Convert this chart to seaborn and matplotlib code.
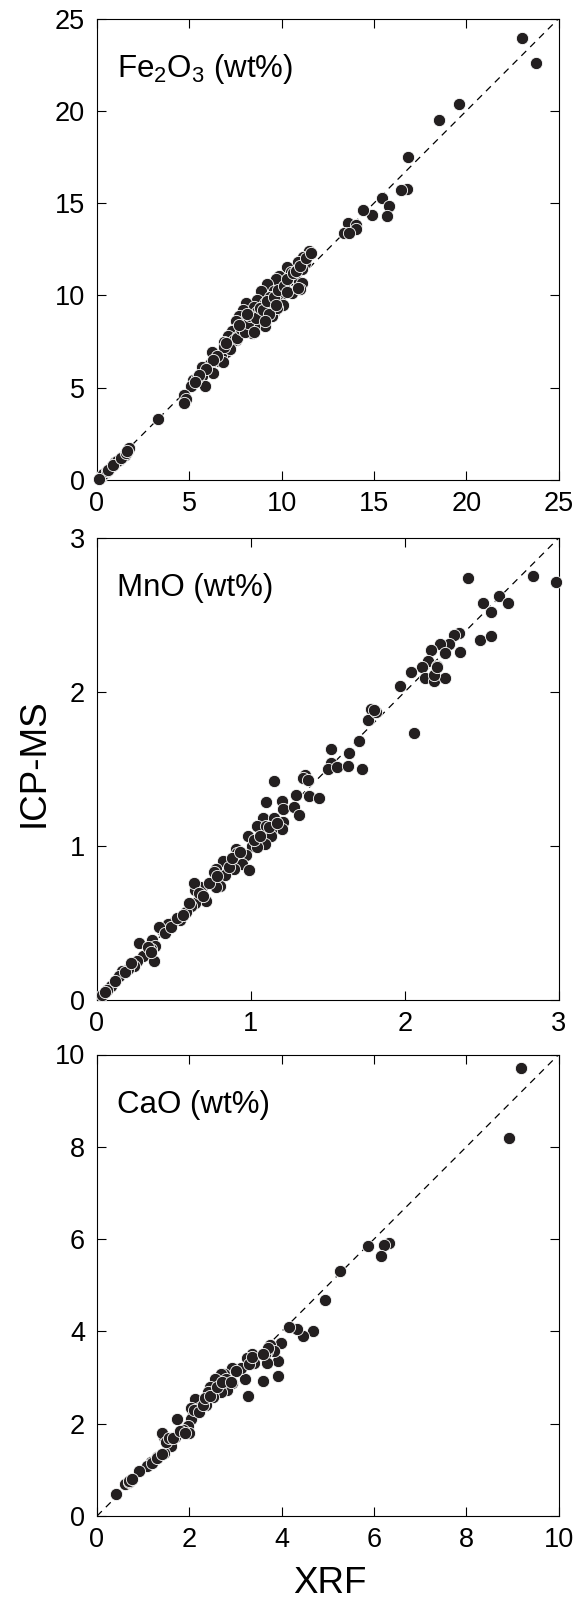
import numpy as np
import pandas as pd
import matplotlib
matplotlib.use("Agg")
import matplotlib.pyplot as plt
import seaborn as sns

# ---------------- data ----------------
fe_xrf = [23.0, 23.75, 19.6, 18.5, 16.85, 16.8, 16.45, 15.45, 15.8, 15.7, 14.9, 14.4,
          13.6, 14.0, 14.05, 13.4, 13.63,
          11.48, 11.18, 10.88, 11.28, 10.28, 10.48, 9.88, 9.69, 10.48, 10.92, 11.12, 10.58,
          10.98, 9.19, 9.59, 9.98, 8.89, 8.69, 9.09, 9.49, 9.88, 8.09, 8.49, 9.19, 10.08,
          7.90, 8.69, 9.59, 9.49, 8.89, 7.70, 8.09, 8.49, 7.50, 9.09, 8.49, 7.99, 7.50, 8.39,
          7.80, 7.30, 7.10, 7.50, 6.90, 7.20, 7.00, 6.70, 6.20, 6.60, 6.80, 6.10, 6.26, 5.71,
          5.71, 5.87, 5.21, 5.11, 5.41, 4.71, 4.81, 4.71, 3.32, 11.08, 9.35, 8.25, 7.6, 9.75,
          7.4, 7.6, 7.8, 8.0, 8.2, 8.3, 8.6, 8.8, 9.0, 9.2, 9.3, 9.6, 9.8, 10.1, 10.3, 10.6,
          10.8, 11.0, 11.3, 11.6, 7.2, 6.9, 6.5, 6.3, 5.9, 5.5, 5.3, 8.5, 9.1, 9.7, 10.3, 10.9,
          7.0, 7.7, 8.1,
          0.20, 0.45, 0.65, 0.80, 0.90, 1.00, 1.20, 1.35, 1.50, 1.60, 1.70, 1.75, 0.30, 0.55, 1.10,
          0.10, 0.60, 0.85, 1.30, 1.55, 1.65]
fe_icp = [23.96, 22.57, 20.37, 19.51, 17.52, 15.76, 15.70, 15.25, 14.86, 14.28, 14.35, 14.60,
          13.94, 13.79, 13.60, 13.38, 13.36,
          12.42, 12.10, 11.82, 11.76, 11.54, 11.26, 11.07, 10.88, 10.97, 10.73, 10.69, 10.13,
          10.36, 10.64, 10.26, 10.04, 10.22, 9.76, 9.57, 9.76, 9.57, 9.57, 9.38, 9.44, 9.47,
          9.19, 9.10, 9.10, 8.91, 8.91, 8.91, 8.72, 8.54, 8.63, 8.35, 8.35, 8.26, 8.16, 7.97,
          7.97, 8.07, 7.79, 7.60, 7.50, 7.32, 6.94, 6.75, 6.94, 6.47, 6.38, 6.29, 5.82, 6.10,
          5.63, 5.10, 5.44, 5.07, 5.53, 4.60, 4.41, 4.17, 3.28, 11.44, 9.9, 8.6, 7.75, 9.3,
          7.6, 7.7, 8.2, 8.0, 8.5, 8.9, 8.8, 9.3, 9.2, 9.7, 9.0, 9.9, 10.3, 10.5, 10.9, 11.2,
          11.3, 11.6, 12.0, 12.3, 7.1, 7.2, 6.7, 6.5, 6.0, 5.7, 5.3, 8.0, 8.6, 9.5, 10.2, 10.4,
          7.4, 8.4, 9.0,
          0.15, 0.40, 0.60, 0.75, 0.85, 0.95, 1.10, 1.25, 1.35, 1.50, 1.60, 1.75, 0.30, 0.50, 1.05,
          0.05, 0.55, 0.80, 1.20, 1.45, 1.55]

mn_xrf = [2.98, 2.83, 2.41, 2.61, 2.67, 2.51, 2.56, 2.49, 2.56, 2.35, 2.32, 2.36, 2.29, 2.23,
          2.26, 2.17, 2.15, 2.11, 2.21, 2.13, 2.19, 2.26, 2.19, 2.04, 1.97, 2.06, 1.78, 1.76,
          1.81, 1.70, 1.64, 1.52, 1.52, 1.50, 1.56, 1.63, 1.72, 1.35, 1.34, 1.15, 1.29, 1.38,
          1.44, 1.20, 1.10, 1.21, 1.28, 1.31, 1.08, 1.15, 1.21, 1.04, 1.10, 1.20, 1.13, 0.98,
          1.13, 1.09, 1.01, 1.04, 0.90, 0.97, 0.91, 0.82, 0.94, 0.99, 0.89, 0.77, 0.83, 0.76,
          0.80, 0.77, 0.67, 0.64, 0.63, 0.71, 0.64, 0.61, 0.58, 0.54, 0.49, 0.46, 0.42, 0.40,
          0.36, 0.38, 0.27, 0.35, 0.30, 0.37, 0.26, 0.24, 0.20, 0.16, 0.14, 0.09, 0.065, 0.03,
          0.33, 0.35, 0.44, 0.48, 0.52, 0.56, 0.60, 0.66, 0.69, 0.73, 0.78, 0.86, 0.88, 0.93,
          1.02, 1.06, 1.12, 1.17, 0.12, 0.18, 0.22, 0.05, 1.37, 1.80, 2.21]
mn_icp = [2.715, 2.75, 2.737, 2.62, 2.58, 2.58, 2.52, 2.34, 2.36, 2.38, 2.37, 2.26, 2.31, 2.31,
          2.25, 2.27, 2.20, 2.16, 2.17, 2.09, 2.07, 2.09, 2.11, 2.13, 2.04, 1.73, 1.89, 1.82,
          1.87, 1.68, 1.60, 1.63, 1.54, 1.50, 1.51, 1.52, 1.50, 1.46, 1.44, 1.42, 1.33, 1.32,
          1.31, 1.29, 1.285, 1.24, 1.25, 1.20, 1.18, 1.18, 1.155, 1.13, 1.13, 1.11, 1.09, 1.06,
          1.06, 1.01, 1.00, 0.99, 0.98, 0.94, 0.95, 0.90, 0.88, 0.84, 0.85, 0.85, 0.81, 0.83,
          0.74, 0.73, 0.73, 0.71, 0.76, 0.64, 0.63, 0.61, 0.57, 0.52, 0.50, 0.49, 0.45, 0.47,
          0.39, 0.35, 0.37, 0.33, 0.28, 0.25, 0.25, 0.22, 0.20, 0.185, 0.15, 0.09, 0.065, 0.03,
          0.34, 0.31, 0.43, 0.47, 0.53, 0.55, 0.63, 0.69, 0.67, 0.76, 0.80, 0.86, 0.92, 0.96,
          1.04, 1.06, 1.12, 1.15, 0.12, 0.18, 0.24, 0.05, 1.43, 1.88, 2.16]

ca_xrf = [9.19, 8.93, 6.32, 6.21, 6.16, 5.86, 5.27, 4.93, 4.67, 4.47, 4.33, 4.15, 3.98, 3.93,
          3.91, 3.75, 3.83, 3.69, 3.64, 3.68, 3.60, 3.28, 3.20, 3.36, 3.24, 3.40, 3.12, 2.92,
          2.76, 2.92, 2.82, 2.68, 2.80, 2.56, 2.68, 2.44, 2.52, 2.40, 2.36, 2.24, 2.12, 2.20,
          2.04, 2.08, 2.04, 1.97, 2.00, 1.86, 1.73, 1.57, 1.69, 1.45, 1.41, 1.61, 1.45, 1.29,
          1.17, 1.09, 0.92, 0.73, 0.61, 0.69, 0.41,
          1.20, 1.30, 1.50, 1.55, 1.65, 1.80, 1.90, 2.10, 2.20, 2.30, 2.35, 2.45, 2.60, 2.70,
          3.00, 3.30, 3.35, 0.70, 0.75, 1.40, 3.70, 3.60, 2.90]
ca_icp = [9.71, 8.19, 5.91, 5.88, 5.64, 5.84, 5.31, 4.69, 4.01, 3.89, 4.06, 4.09, 3.74, 3.35,
          3.04, 3.70, 3.58, 3.58, 3.50, 3.31, 2.92, 2.61, 2.97, 3.50, 3.42, 3.31, 3.21, 3.21,
          3.07, 2.89, 2.74, 3.07, 2.96, 2.96, 2.68, 2.80, 2.57, 2.68, 2.41, 2.49, 2.53, 2.33,
          2.33, 2.18, 2.10, 1.95, 1.79, 1.87, 2.10, 1.63, 1.71, 1.71, 1.79, 1.52, 1.36, 1.28,
          1.17, 1.09, 0.97, 0.79, 0.70, 0.74, 0.47,
          1.15, 1.25, 1.60, 1.70, 1.70, 1.85, 1.80, 2.30, 2.25, 2.40, 2.55, 2.60, 2.80, 2.90,
          3.15, 3.30, 3.45, 0.75, 0.80, 1.35, 3.65, 3.50, 2.90]

panel_labels = ["Fe$_2$O$_3$ (wt%)", "MnO (wt%)", "CaO (wt%)"]
panel_max = [25, 3, 10]
panel_ticks = [[0, 5, 10, 15, 20, 25], [0, 1, 2, 3], [0, 2, 4, 6, 8, 10]]

# ---------------- style ----------------
sns.set_theme(style="ticks")
plt.rcParams["font.family"] = ["Liberation Sans", "DejaVu Sans"]
plt.rcParams["mathtext.default"] = "regular"
plt.rcParams["axes.linewidth"] = 0.8

fig = plt.figure(figsize=(5.77, 16.02), dpi=100)
W, H = 577.0, 1602.0
L, R, AH = 97.0, 558.7, 461.5
tops = [18.5, 538.0, 1054.5]

datasets = [(fe_xrf, fe_icp), (mn_xrf, mn_icp), (ca_xrf, ca_icp)]
for i, t in enumerate(tops):
    b = t + AH
    ax = fig.add_axes([L / W, 1 - b / H, (R - L) / W, AH / H])
    xv, yv = datasets[i]
    df = pd.DataFrame({"XRF": xv, "ICP": yv})
    m = panel_max[i]
    ax.plot([0, m], [0, m], ls=(0, (5.5, 4.5)), color="black", lw=0.9, zorder=1)
    sns.scatterplot(data=df, x="XRF", y="ICP", ax=ax, color="#231f20", s=78,
                    edgecolor="white", linewidth=0.6, zorder=3, clip_on=False, legend=False)
    ax.set_xlim(0, m)
    ax.set_ylim(0, m)
    ax.set_xticks(panel_ticks[i])
    ax.set_yticks(panel_ticks[i])
    ax.set_xticklabels([str(v) for v in panel_ticks[i]])
    ax.set_yticklabels([str(v) for v in panel_ticks[i]])
    ax.tick_params(direction="in", length=6.5, width=0.8, top=True, right=True,
                   labelsize=19.5, colors="black")
    ax.tick_params(axis="y", pad=8.5)
    ax.tick_params(axis="x", pad=8)
    ax.set_xlabel("")
    ax.set_ylabel("")
    for sp in ax.spines.values():
        sp.set_visible(True)
        sp.set_color("black")
        sp.set_linewidth(0.8)
    ax.text(0.044, 0.874, panel_labels[i], transform=ax.transAxes, fontsize=22.5,
            ha="left", va="baseline", color="black")

fig.text(34 / W, 1 - 763 / H, "ICP-MS", rotation=90, ha="center", va="center",
         fontsize=26.5, color="black")
fig.text(330 / W, 1 - 1593 / H, "XRF", ha="center", va="baseline", fontsize=26.5, color="black")

fig.savefig("out.png", dpi=100)
